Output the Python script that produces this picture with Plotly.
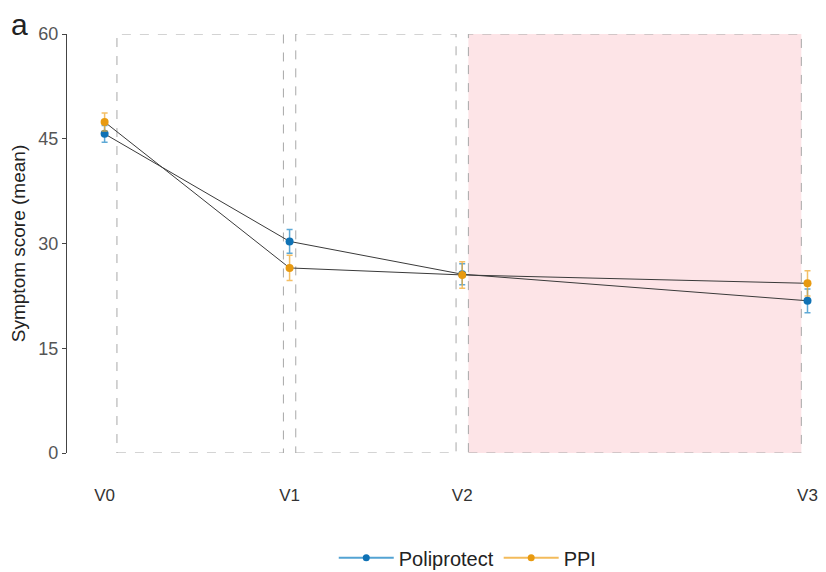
import plotly.graph_objects as go

# Data
visits = ["V0", "V1", "V2", "V3"]
visit_day = [0, 30, 58, 114]
poli_mean = [45.7, 30.3, 25.6, 21.8]
poli_err = [1.2, 1.7, 1.5, 1.7]
ppi_mean = [47.4, 26.5, 25.5, 24.3]
ppi_err = [1.3, 1.8, 1.9, 1.8]
box_start = [2, 31, 59]
box_end = [29, 57, 113]
box_fill = ["rgba(0,0,0,0)", "rgba(0,0,0,0)", "#fde4e7"]

BLUE = "#0f72b5"
ORANGE = "#e89a10"

fig = go.Figure()

for s, e, f in zip(box_start, box_end, box_fill):
    fig.add_shape(type="rect", x0=s, x1=e, y0=0, y1=60, xref="x", yref="y",
                  fillcolor=f, line=dict(color="#a8a8a8", width=1, dash="dash"),
                  layer="below")

for name, mean, err, col, ecol in [
    ("Poliprotect", poli_mean, poli_err, BLUE, "rgba(40,140,200,0.75)"),
    ("PPI", ppi_mean, ppi_err, ORANGE, "rgba(240,170,50,0.75)"),
]:
    fig.add_trace(go.Scatter(x=visit_day, y=mean, mode="lines",
                             line=dict(color="#3a3a3a", width=1), showlegend=False,
                             hoverinfo="skip", cliponaxis=False))
    fig.add_trace(go.Scatter(x=visit_day, y=mean, mode="markers",
                             marker=dict(color=col, size=8),
                             error_y=dict(type="data", array=err, color=ecol,
                                          thickness=1.5, width=3),
                             showlegend=False, name=name, cliponaxis=False))

for name, col in [("Poliprotect", "rgba(40,140,200,0.8)"), ("PPI", "rgba(240,170,50,0.8)")]:
    fig.add_trace(go.Scatter(x=[None], y=[None], mode="lines+markers", name=name,
                             line=dict(color=col, width=2),
                             marker=dict(color=BLUE if name == "Poliprotect" else ORANGE, size=7)))

fig.update_layout(
    width=818, height=564,
    margin=dict(l=59, r=0, t=26, b=119, autoexpand=False),
    paper_bgcolor="white", plot_bgcolor="white",
    font=dict(family="Liberation Sans, Arial, sans-serif", color="#333333", size=16),
    showlegend=True,
    legend=dict(orientation="h", x=0.528, xanchor="center", y=-0.25, yanchor="middle",
                font=dict(size=20, color="#222222"), itemwidth=55),
    xaxis=dict(range=[-6.1, 117.0], tickmode="array", tickvals=visit_day, ticktext=visits,
               showgrid=False, zeroline=False, showline=False, ticks="", automargin=False,
               ticklabeloverflow="allow",
               ticklabelstandoff=30, tickfont=dict(size=17, color="#333333")),
    yaxis=dict(range=[0, 60], tickvals=[0, 15, 30, 45, 60], showgrid=False, zeroline=False,
               showline=True, linecolor="#444444", linewidth=1.2, ticks="outside",
               ticklen=4, tickcolor="#444444", tickfont=dict(size=18, color="#555555"),
               automargin=False,
               title=dict(text="Symptom score (mean)", font=dict(size=19, color="#222222"),
                          standoff=8)),
    annotations=[dict(text="a", xref="paper", yref="paper", showarrow=False,
                      x=-0.062, y=1.022, xanchor="center", yanchor="middle",
                      font=dict(size=30, color="#222222"))],
)

fig.write_html("out.html")
